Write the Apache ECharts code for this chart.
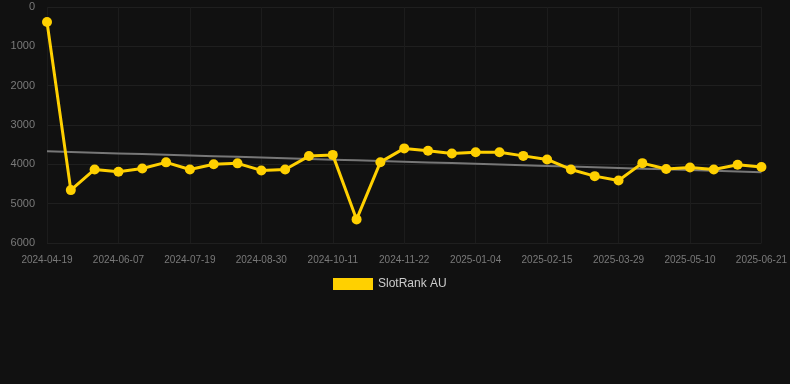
<!DOCTYPE html>
<html><head><meta charset="utf-8">
<script src="https://cdn.jsdelivr.net/npm/echarts@6/dist/echarts.min.js"></script>
<style>html,body{margin:0;padding:0;background:#111111;}#c{width:790px;height:384px;}</style>
</head><body><div id="c"></div>
<script>
const categories = ["2024-04-19","2024-05-10","2024-05-24","2024-06-07","2024-06-21","2024-07-05","2024-07-19","2024-08-02","2024-08-16","2024-08-30","2024-09-13","2024-09-27","2024-10-11","2024-10-25","2024-11-08","2024-11-22","2024-12-06","2024-12-20","2025-01-04","2025-01-18","2025-02-01","2025-02-15","2025-03-01","2025-03-15","2025-03-29","2025-04-12","2025-04-26","2025-05-10","2025-05-24","2025-06-07","2025-06-21"];
const rankValues = [380,4655,4130,4190,4105,3950,4130,4000,3975,4155,4130,3790,3760,5400,3945,3595,3655,3725,3695,3695,3785,3875,4130,4300,4410,3970,4120,4080,4130,4010,4070];
const seriesName = "SlotRank AU";

// linear regression trend from the data
const n = rankValues.length;
let sx=0, sy=0, sxy=0, sxx=0;
rankValues.forEach((v,i)=>{sx+=i;sy+=v;sxy+=i*v;sxx+=i*i;});
const slope = (n*sxy - sx*sy)/(n*sxx - sx*sx);
const icpt = (sy - slope*sx)/n;
const trend = rankValues.map((v,i)=>icpt + slope*i);

const chart = echarts.init(document.getElementById('c'), null, {renderer:'canvas'});
chart.setOption({
  backgroundColor:'#111111',
  animation:false,
  grid:{left:47,right:28,top:7,bottom:141,containLabel:false},
  legend:{
    data:[seriesName], top:273, left:328, itemWidth:40, itemHeight:12, itemGap:10,
    textStyle:{color:'#cccccc', fontSize:12, fontFamily:'Liberation Sans, Arial, sans-serif'},
    icon:'rect'
  },
  xAxis:{
    type:'category', data:categories, boundaryGap:false,
    axisLine:{show:false}, axisTick:{show:false},
    axisLabel:{interval:2, color:'#7a7a7a', fontSize:10, margin:12, fontFamily:'Liberation Sans, Arial, sans-serif'},
    splitLine:{show:true, interval:2, lineStyle:{color:'#1c1c1c', width:1}}
  },
  yAxis:{
    type:'value', inverse:true, min:0, max:6000, interval:1000,
    axisLine:{show:false}, axisTick:{show:false},
    axisLabel:{color:'#7a7a7a', fontSize:11, margin:12, formatter:(v)=>String(v), fontFamily:'Liberation Sans, Arial, sans-serif'},
    splitLine:{show:true, lineStyle:{color:'#1f1f1f', width:1}}
  },
  series:[
    {
      name:seriesName, type:'line', data:rankValues, color:'#FFD000',
      symbol:'circle', symbolSize:10, lineStyle:{width:3, color:'#FFD000'},
      itemStyle:{color:'#FFD000'}, z:3
    },
    {
      name:'trend', type:'line', data:trend, symbol:'none',
      lineStyle:{width:2, color:'#777777'}, z:2, silent:true
    }
  ]
});
</script></body></html>
